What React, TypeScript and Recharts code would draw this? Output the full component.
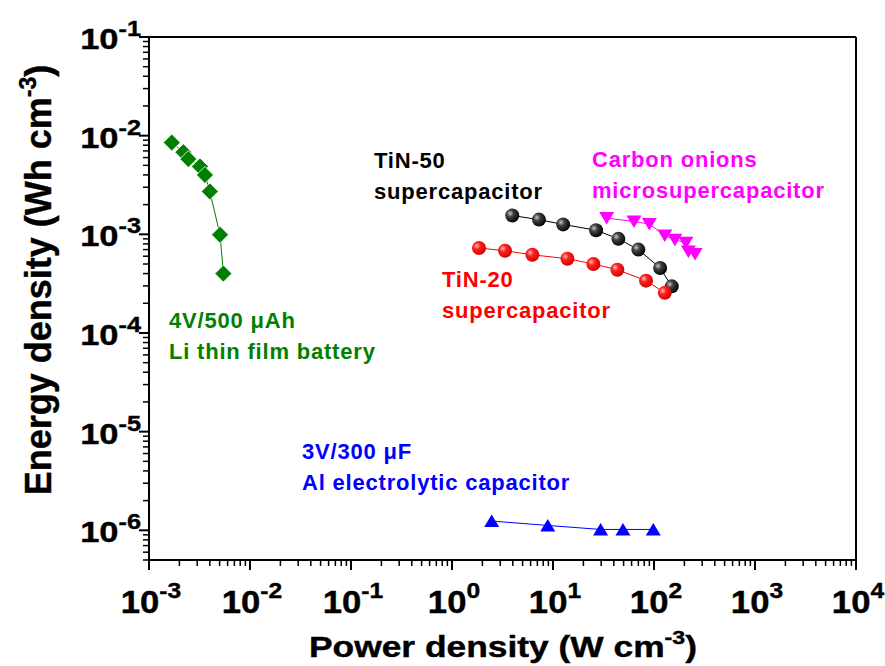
import React from 'react';
import { ScatterChart, Scatter, XAxis, YAxis, ReferenceLine } from 'recharts';

// ---- data ----
const liPower = [1.68e-3, 2.19e-3, 2.45e-3, 3.2e-3, 3.58e-3, 4.0e-3, 5.05e-3, 5.45e-3];
const liEnergy = [8.5e-3, 6.8e-3, 5.8e-3, 4.86e-3, 4.0e-3, 2.72e-3, 9.9e-4, 4.0e-4];

const tin50Power = [3.95, 7.26, 12.6, 26.7, 44.4, 70, 115, 150];
const tin50Energy = [1.55e-3, 1.41e-3, 1.26e-3, 1.1e-3, 9.0e-4, 7.0e-4, 4.56e-4, 2.97e-4];

const tin20Power = [1.85, 3.35, 6.24, 13.9, 25.1, 43.4, 83.4, 128];
const tin20Energy = [7.26e-4, 6.82e-4, 6.2e-4, 5.66e-4, 5.0e-4, 4.38e-4, 3.39e-4, 2.55e-4];

const onionPower = [34, 63.4, 90, 128, 161, 207, 219, 255];
const onionEnergy = [1.46e-3, 1.35e-3, 1.27e-3, 9.75e-4, 8.8e-4, 8.2e-4, 6.7e-4, 6.3e-4];

const alPower = [2.47, 8.87, 29.6, 49.3, 98.4];
const alEnergy = [1.24e-6, 1.12e-6, 1.02e-6, 1.02e-6, 1.02e-6];

const xMajorExps = [-3, -2, -1, 0, 1, 2, 3, 4];
const yMajorExps = [-6, -5, -4, -3, -2, -1];
const minorMultipliers = [2, 3, 4, 5, 6, 7, 8, 9];
const xDomain = [1e-3, 1e4];
const yDomain = [5e-7, 0.1];

const zip = (xs: number[], ys: number[]) => xs.map((x, i) => ({ x, y: ys[i] }));
const liData = zip(liPower, liEnergy);
const tin50Data = zip(tin50Power, tin50Energy);
const tin20Data = zip(tin20Power, tin20Energy);
const onionData = zip(onionPower, onionEnergy);
const alData = zip(alPower, alEnergy);

const buildTicks = (exps: number[], lo: number, hi: number) => {
  const t: number[] = [];
  for (let i = 0; i < exps.length; i++) {
    const base = Math.pow(10, exps[i]);
    t.push(base);
    if (i < exps.length - 1) minorMultipliers.forEach((m) => t.push(m * base));
  }
  const below = minorMultipliers.map((m) => m * Math.pow(10, exps[0] - 1)).filter((v) => v >= lo * 0.999);
  return [...below, ...t].filter((v) => v <= hi * 1.001 && v >= lo * 0.999).sort((a, b) => a - b);
};
const xTicks = buildTicks(xMajorExps, xDomain[0], xDomain[1]);
const yTicks = buildTicks(yMajorExps, yDomain[0], yDomain[1]);

const FONT = '"Liberation Sans", Arial, sans-serif';

const isMajor = (v: number) => {
  const lg = Math.log10(v);
  return Math.abs(lg - Math.round(lg)) < 1e-6;
};

const XTick = (props: any) => {
  const { x, y, payload } = props;
  const v = payload.value;
  const major = isMajor(v);
  const e = Math.round(Math.log10(v));
  return (
    <g>
      <line x1={x} x2={x} y1={y} y2={y + (major ? 10 : 6)} stroke="#000" strokeWidth={major ? 2 : 1.5} />
      {major && (
        <g transform={`translate(${x + 2},${y + 53}) scale(1.12,1)`}>
          <text x={0} y={0} textAnchor="middle" fontFamily={FONT} fontWeight="bold" fontSize={31} fill="#000" stroke="#000" strokeWidth={0.4}>
            10
            <tspan dy={-15} fontSize={22}>{e}</tspan>
          </text>
        </g>
      )}
    </g>
  );
};

const YTick = (props: any) => {
  const { x, y, payload } = props;
  const v = payload.value;
  const major = isMajor(v);
  const e = Math.round(Math.log10(v));
  return (
    <g>
      <line x1={x} x2={x - (major ? 10 : 6)} y1={y} y2={y} stroke="#000" strokeWidth={major ? 2 : 1.5} />
      {major && (
        <g transform={`translate(${x - 8},${y + 12}) scale(1.15,1)`}>
          <text x={0} y={0} textAnchor="end" fontFamily={FONT} fontWeight="bold" fontSize={30} fill="#000" stroke="#000" strokeWidth={0.4}>
            10
            <tspan dy={-13} fontSize={22}>{e}</tspan>
          </text>
        </g>
      )}
    </g>
  );
};

const Diamond = (props: any) => {
  const { cx, cy } = props;
  const r = 8.5;
  return (
    <polygon
      points={`${cx},${cy - r} ${cx + r},${cy} ${cx},${cy + r} ${cx - r},${cy}`}
      fill="#008000"
      stroke="#ffffff"
      strokeWidth={0.8}
    />
  );
};

const Ball = (fillId: string) => (props: any) => {
  const { cx, cy } = props;
  return <circle cx={cx} cy={cy} r={7} fill={`url(#${fillId})`} />;
};

const TriDown = (props: any) => {
  const { cx, cy } = props;
  return (
    <polygon points={`${cx - 7.5},${cy - 6} ${cx + 7.5},${cy - 6} ${cx},${cy + 6.5}`} fill="#ff00ff" />
  );
};

const TriUp = (props: any) => {
  const { cx, cy } = props;
  return (
    <polygon points={`${cx - 7.5},${cy + 6} ${cx + 7.5},${cy + 6} ${cx},${cy - 6.5}`} fill="#0000ff" />
  );
};

const Ann = ({ x, y, color, lines }: { x: number; y: number; color: string; lines: string[] }) => (
  <text x={x} y={y} fill={color} fontFamily={FONT} fontWeight="bold" fontSize={22} letterSpacing={0.8}>
    {lines.map((l, i) => (
      <tspan key={i} x={x} dy={i === 0 ? 0 : 31}>
        {l}
      </tspan>
    ))}
  </text>
);

export default function App() {
  return (
    <div style={{ position: 'absolute', left: 0, top: 0, width: 885, height: 666, background: '#fff' }}>
      <ScatterChart width={885} height={666} margin={{ top: 37, right: 29, left: 69, bottom: 46 }}>
        <defs>
          <radialGradient id="gBlack" cx="35%" cy="35%" r="70%">
            <stop offset="0%" stopColor="#c8c8c8" />
            <stop offset="35%" stopColor="#404040" />
            <stop offset="100%" stopColor="#000000" />
          </radialGradient>
          <radialGradient id="gRed" cx="35%" cy="35%" r="70%">
            <stop offset="0%" stopColor="#ffc0c0" />
            <stop offset="35%" stopColor="#ff2020" />
            <stop offset="100%" stopColor="#d00000" />
          </radialGradient>
        </defs>
        <XAxis
          type="number"
          dataKey="x"
          scale="log"
          domain={xDomain}
          allowDataOverflow
          ticks={xTicks}
          interval={0}
          tick={<XTick />}
          tickLine={false}
          tickSize={0}
          tickMargin={0}
          axisLine={{ stroke: '#000', strokeWidth: 2 }}
          height={60}
        />
        <YAxis
          type="number"
          dataKey="y"
          scale="log"
          domain={yDomain}
          allowDataOverflow
          ticks={yTicks}
          interval={0}
          tick={<YTick />}
          tickLine={false}
          tickSize={0}
          tickMargin={0}
          axisLine={{ stroke: '#000', strokeWidth: 2 }}
          width={80}
        />
        <ReferenceLine y={yDomain[1]} stroke="#000" strokeWidth={2} />
        <ReferenceLine x={xDomain[1]} stroke="#000" strokeWidth={2} />
        <Scatter data={liData} shape={Diamond} line={{ stroke: '#008000', strokeWidth: 1 }} isAnimationActive={false} />
        <Scatter data={tin50Data} shape={Ball('gBlack')} line={{ stroke: '#000', strokeWidth: 1 }} isAnimationActive={false} />
        <Scatter data={tin20Data} shape={Ball('gRed')} line={{ stroke: '#ff0000', strokeWidth: 1 }} isAnimationActive={false} />
        <Scatter data={onionData} shape={TriDown} line={{ stroke: '#ff00ff', strokeWidth: 1 }} isAnimationActive={false} />
        <Scatter data={alData} shape={TriUp} line={{ stroke: '#0000ff', strokeWidth: 1 }} isAnimationActive={false} />

        <Ann x={374} y={168} color="#000" lines={['TiN-50', 'supercapacitor']} />
        <Ann x={592} y={167} color="#ff00ff" lines={['Carbon onions', 'microsupercapacitor']} />
        <Ann x={442} y={287} color="#ff0000" lines={['TiN-20', 'supercapacitor']} />
        <Ann x={169} y={328} color="#008000" lines={['4V/500 μAh', 'Li thin film battery']} />
        <Ann x={302} y={459} color="#0000ff" lines={['3V/300 μF', 'Al electrolytic capacitor']} />

        <g transform="translate(503,657) scale(1.22,1)">
          <text x={0} y={0} textAnchor="middle" fontFamily={FONT} fontWeight="bold" fontSize={29} fill="#000" stroke="#000" strokeWidth={0.4}>
            Power density (W cm<tspan dy={-13} fontSize={19}>-3</tspan>
            <tspan dy={13}>)</tspan>
          </text>
        </g>
        <g transform="translate(51,280) rotate(-90)">
          <text x={0} y={0} textAnchor="middle" fontFamily={FONT} fontWeight="bold" fontSize={36} fill="#000" stroke="#000" strokeWidth={0.4}>
            Energy density (Wh cm<tspan dy={-15} fontSize={23}>-3</tspan>
            <tspan dy={15}>)</tspan>
          </text>
        </g>
      </ScatterChart>
    </div>
  );
}
